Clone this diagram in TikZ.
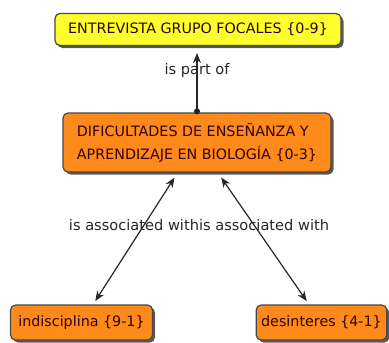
\documentclass[tikz,border=0pt]{standalone}
\usepackage{fontspec}
\setmainfont{DejaVu Sans}
\usetikzlibrary{positioning, arrows.meta, shadows}

\definecolor{cyellow}{HTML}{FFFF2E}
\definecolor{corange}{HTML}{FF8A1C}
\definecolor{cborder}{HTML}{474747}

\begin{document}
\begin{tikzpicture}[
  x=1pt, y=-1pt,
  font=\fontsize{14.3}{23}\selectfont,
  >={Stealth[length=10pt, width=8pt]},
  concept/.style={draw=cborder, rounded corners=5pt, inner sep=5pt, line width=1.2pt,
               text=black!80!red, drop shadow={shadow xshift=2.5pt, shadow yshift=-2.5pt, fill=black!65, opacity=1}},
  link/.style={black!85, line width=1.2pt},
  linklabel/.style={text=black!85, font=\fontsize{14.6}{18}\selectfont}
]
\useasboundingbox (0,0) rectangle (389,343);
\node[concept, fill=cyellow, minimum width=286pt, minimum height=32pt] (grupo) at (198,29.5)
  {ENTREVISTA GRUPO FOCALES \{0-9\}};
\node[concept, fill=corange, align=left, minimum width=268pt, minimum height=59pt] (dificultades) at (197,142.5)
  {DIFICULTADES DE ENSEÑANZA Y\\APRENDIZAJE EN BIOLOGÍA \{0-3\}};
\node[concept, fill=corange, minimum width=142pt, minimum height=35pt] (indisciplina) at (81.5,322.5)
  {indisciplina \{9-1\}};
\node[concept, fill=corange, minimum width=127pt, minimum height=35pt] (desinteres) at (321.5,322.5)
  {desinteres \{4-1\}};
% links
\draw[link, {Circle[length=6pt]}->, shorten <=-2pt, shorten >=7pt]
  (dificultades.north) -- (dificultades.north |- grupo.south);
\draw[link, <->, shorten <=6pt, shorten >=4pt]
  (dificultades) -- (indisciplina);
\draw[link, <->, shorten <=6pt, shorten >=4pt]
  (dificultades) -- (desinteres);
\node[linklabel] (partof) at (197,70) {is part of};
\node[linklabel] (assoc) at (199,225) {is associated withis associated with};
\end{tikzpicture}
\end{document}
